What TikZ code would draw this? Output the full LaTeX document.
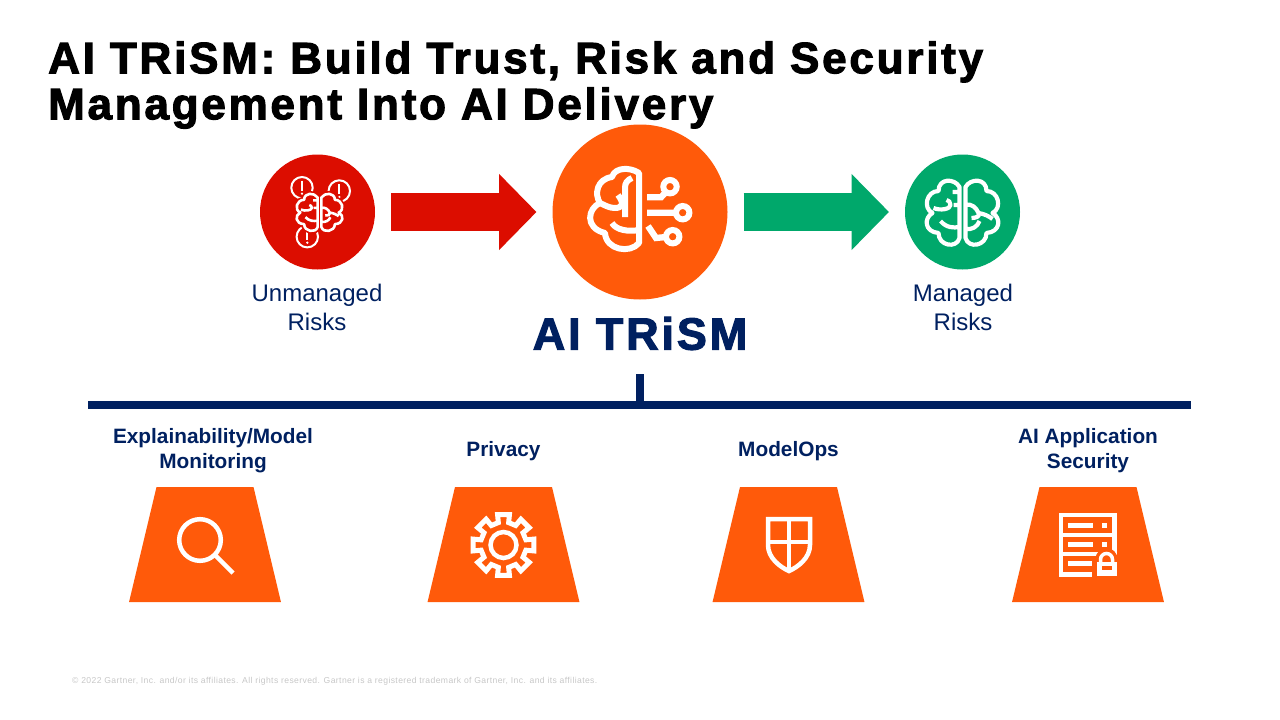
\documentclass[tikz,border=0pt]{standalone}
\usepackage{fontspec}
\setmainfont{Liberation Sans}
\newfontfamily\headfont{Liberation Sans}[BoldFeatures={FakeBold=2.4,LetterSpace=6.3}]
\usetikzlibrary{arrows.meta,shapes.geometric}
\definecolor{trismorange}{HTML}{FF5A0A}
\definecolor{riskred}{HTML}{DC0D00}
\definecolor{safegreen}{HTML}{00A86B}
\definecolor{trismnavy}{HTML}{002060}
\tikzset{
  riskcircle/.style={circle,inner sep=0pt,outer sep=0pt},
  blockarrow/.style={line width=38pt,-{Triangle[length=37.5pt,width=74pt]},shorten >=16pt,shorten <=16pt},
  risklabel/.style={align=center,text=trismnavy,font=\fontsize{24}{29}\selectfont},
  pillarlabel/.style={align=center,text=trismnavy,font=\fontsize{20.8}{25}\selectfont\bfseries},
  pillar/.style={trapezium,trapezium stretches=true,trapezium left angle=75,trapezium right angle=75,
    minimum width=152pt,minimum height=115pt,inner sep=0pt,outer sep=0pt,fill=trismorange},
  iconline/.style={draw=white,line width=4.5pt,fill=none,line join=miter},
}
% half of a brain, the midline at x=3
\newcommand{\brainoutline}{
  (3,-25) .. controls (8,-34) and (24,-34) .. (24,-21)
  .. controls (36,-21) and (40,-4) .. (30,1)
  .. controls (39,6) and (38,20) .. (24,21)
  .. controls (24,34) and (6,37) .. (3,26) -- cycle
}
\newcommand{\braindetailright}{
  (3,-7) .. controls (9,-9) and (14,-4) .. (16,1)
  .. controls (18,4) and (14,6) .. (9,6)
  (16,1) .. controls (22,2) and (26,4) .. (30,7)
  (3,17) .. controls (9,18) and (15,15) .. (17,9)
}
\newcommand{\braindetailleft}{
  (3,-20) -- (10,-20)
  (29,-4) .. controls (22,-1) and (12,-3) .. (12,-7)
  .. controls (12,-10) and (14,-12) .. (16,-12)
  (3,-7) -- (9,-7)
  (22,9) .. controls (16,16) and (9,16) .. (3,15)
}
\begin{document}
\begin{tikzpicture}[x=1pt,y=-1pt]
\useasboundingbox (0,0) rectangle (1280,720);

% Title
\node[anchor=west,align=left,inner sep=0pt,font=\headfont\fontsize{44}{46}\selectfont\bfseries] (title) at (48,85)
  {AI TRiSM: Build Trust, Risk and Security\\Management Into AI Delivery};

% Circles
\node[riskcircle,fill=riskred,minimum size=115pt] (unmanaged) at (317.5,212) {};
\node[riskcircle,fill=trismorange,minimum size=175pt] (trism) at (640,212) {};
\node[riskcircle,fill=safegreen,minimum size=115pt] (managed) at (962.5,212) {};

% Arrows
\draw[blockarrow,riskred] (unmanaged) -- (trism);
\draw[blockarrow,safegreen] (trism) -- (managed);

% Labels of the circles
\node[risklabel] (unmanagedlabel) at (317,307.5) {Unmanaged\\Risks};
\node[risklabel] (managedlabel) at (963,307.5) {Managed\\Risks};
\node[text=trismnavy,font=\headfont\fontsize{45}{46}\selectfont\bfseries] (trismlabel) at (640,333.5) {AI TRiSM};

% Alert circles
\foreach \cx/\cy in {302/187.7,339.3/191,307.3/236.7}{
  \draw[white,line width=2pt] (\cx,\cy) circle (10.7);
  \draw[white,line width=2pt] (\cx,\cy-7) -- (\cx,\cy+3);
  \fill[white] (\cx,\cy+6) circle (1.3);
}
% Red brain
\begin{scope}[shift={(319.5,212)},xscale=0.64,yscale=0.58]
  \fill[riskred] \brainoutline;
  \draw[riskred,line width=6pt] \brainoutline;
  \begin{scope}[xscale=-1]
    \fill[riskred] \brainoutline;
    \draw[riskred,line width=6pt] \brainoutline;
    \draw[white,line width=2.6pt,line join=round] \brainoutline \braindetailleft;
  \end{scope}
  \draw[white,line width=2.6pt,line join=round] \brainoutline \braindetailright;
\end{scope}

% Green brain
\begin{scope}[shift={(962.5,212)}]
  \draw[white,line width=4.2pt,line join=round] \brainoutline \braindetailright;
  \begin{scope}[xscale=-1]
    \draw[white,line width=4.2pt,line join=round] \brainoutline \braindetailleft;
  \end{scope}
\end{scope}

% Orange brain
\draw[white,line width=6pt,line join=round]
  (639,173) .. controls (630,167) and (615,167) .. (612,177)
  .. controls (597,179) and (594,194) .. (600,203)
  .. controls (588,208) and (584,228) .. (605,233)
  .. controls (606,250) and (630,254) .. (639,243) -- cycle
  (632,178) .. controls (627,180) and (625,183) .. (625,188) -- (625,217)
  (600,203) .. controls (606,206) and (610,208) .. (615,208)
  .. controls (622,208) and (625,204) .. (618,195)
  (612,223) .. controls (616,230) and (628,232) .. (639,230);
% Orange brain, circuits
\draw[white,line width=6.3pt]
  (647,197.3) -- (661,197.3) -- (666,192)
  (647,212.7) -- (676,212.7)
  (648,226) -- (656,238) -- (666,237);
\foreach \cx/\cy in {670/186.7,682.7/212.7,672.7/236.7}
  \draw[white,line width=6pt] (\cx,\cy) circle (6.7);

% Bar
\coordinate (barleft) at (88,405);
\coordinate (barright) at (1191,405);
\coordinate (stemtop) at (640,374);
\coordinate (stembottom) at (640,405);
\draw[trismnavy,line width=8pt] (barleft) -- (barright);
\draw[trismnavy,line width=8pt] (stemtop) -- (stembottom);

% Pillar labels
\node[pillarlabel] (explainlabel) at (213,451) {Explainability/Model\\Monitoring};
\node[pillarlabel] (privacylabel) at (503.5,451) {Privacy};
\node[pillarlabel] (modelopslabel) at (788.5,451) {ModelOps};
\node[pillarlabel] (securitylabel) at (1088,451) {AI Application\\Security};

% Pillars
\node[pillar] (explain) at (205,544.5) {\phantom{x}};
\node[pillar] (privacy) at (503.5,544.5) {\phantom{x}};
\node[pillar] (modelops) at (788.5,544.5) {\phantom{x}};
\node[pillar] (security) at (1088,544.5) {\phantom{x}};

% Magnifier
\draw[iconline] (200,540) circle (20.8);
\draw[iconline] (215.5,555.5) -- (233,573);

% Gear
\begin{scope}[shift={(503.5,545)}]
  \draw[iconline] (0,0) circle (13);
  \draw[iconline,line width=5pt] (-13:23) \foreach \a in {0,45,...,315}{ -- (\a-13:23) -- (\a-11:31) -- (\a+11:31) -- (\a+13:23)} -- cycle;
\end{scope}

% Shield
\draw[iconline] (768,519) -- (810,519) -- (810,545) .. controls (810,558) and (798,567) .. (789,571)
  .. controls (780,567) and (768,558) .. (768,545) -- cycle;
\draw[iconline] (789,519) -- (789,571);
\draw[iconline] (768,542) -- (810,542);

% Server with lock
\draw[iconline] (1061,515) rectangle (1114.5,574.5);
\draw[iconline] (1061,535) -- (1114.5,535);
\draw[iconline] (1061,554) -- (1114.5,554);
\foreach \y in {525.5,544.5,563.5}
  \draw[white,line width=5pt] (1068,\y) -- (1093,\y);
\foreach \y in {525.5,544.5}
  \draw[white,line width=5pt] (1102,\y) -- (1107,\y);
\fill[trismorange] (1092,558) rectangle (1120,579);
\fill[trismorange] (1106.5,559) circle (11);
\fill[white] (1097,562) rectangle (1116.5,576);
\fill[trismorange] (1102,565.5) rectangle (1112,569.5);
\draw[white,line width=3.5pt] (1100.5,563) -- (1100.5,559.5) arc[start angle=180,end angle=360,radius=6] -- (1112.5,563);

% Footer
\node[anchor=west,inner sep=0pt,text=black!22,font=\fontsize{8.6}{10}\selectfont] (footer) at (72,681.5)
  {\addfontfeature{LetterSpace=4.5}© 2022 Gartner, Inc. and/or its affiliates. All rights reserved. Gartner is a registered trademark of Gartner, Inc. and its affiliates.};
\end{tikzpicture}
\end{document}
